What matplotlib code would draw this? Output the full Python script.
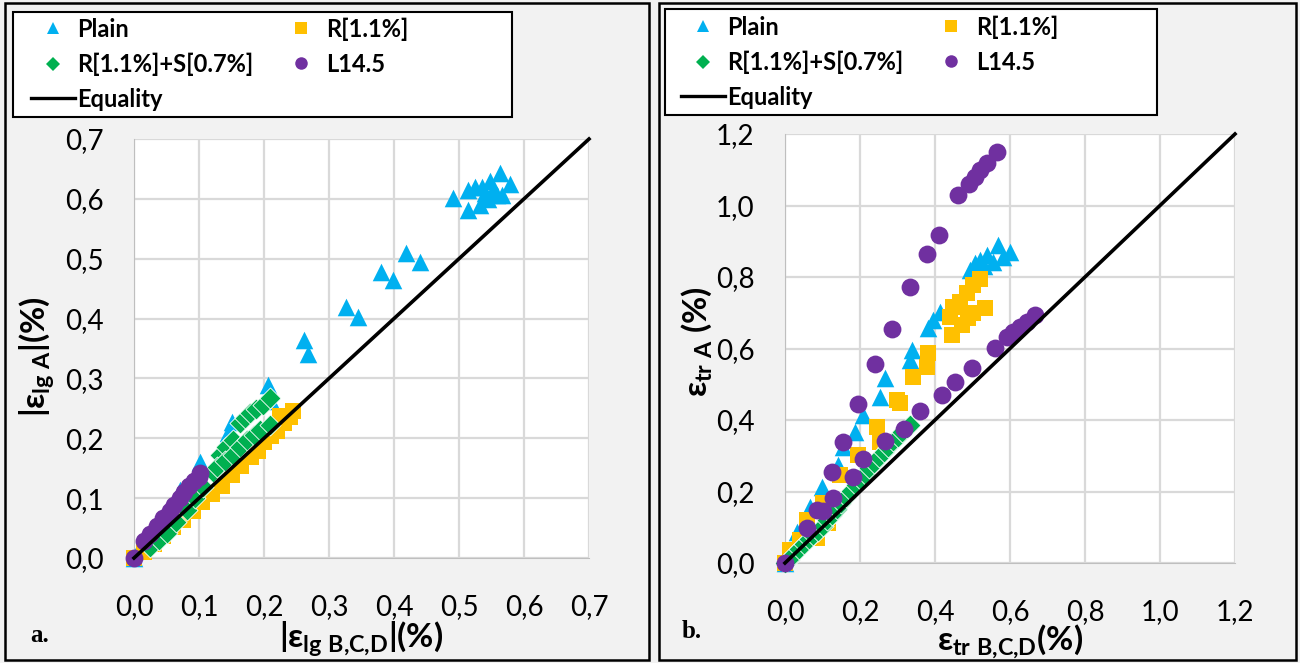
import numpy as np
import matplotlib.pyplot as plt
from matplotlib.lines import Line2D
from matplotlib.patches import Rectangle

# ---- panel a: longitudinal strain |e_lg A| vs |e_lg B,C,D| (%)
plain_a_x = [0.0, 0.012, 0.04, 0.071, 0.102, 0.145, 0.151, 0.206, 0.21, 0.262, 0.268, 0.326, 0.345,
             0.38, 0.399, 0.418, 0.44, 0.491, 0.514, 0.514, 0.525, 0.535, 0.548, 0.563, 0.578,
             0.532, 0.545, 0.558, 0.566, 0.54, 0.552]
plain_a_y = [0.0, 0.025, 0.06, 0.114, 0.161, 0.209, 0.227, 0.289, 0.262, 0.365, 0.34, 0.42, 0.403,
             0.478, 0.465, 0.51, 0.495, 0.602, 0.582, 0.615, 0.619, 0.62, 0.629, 0.643, 0.624,
             0.59, 0.599, 0.607, 0.607, 0.61, 0.615]
r11_a_x = [0.0, 0.015, 0.03, 0.045, 0.06, 0.075, 0.09, 0.105, 0.12, 0.135, 0.15, 0.165, 0.18, 0.19,
           0.2, 0.21, 0.22, 0.23, 0.24, 0.225, 0.245]
r11_a_y = [0.0, 0.01, 0.024, 0.037, 0.051, 0.064, 0.079, 0.094, 0.107, 0.121, 0.138, 0.153, 0.168,
           0.178, 0.193, 0.203, 0.213, 0.226, 0.236, 0.238, 0.246]
rs_a_x = [0.025, 0.038, 0.05, 0.065, 0.081, 0.094, 0.106, 0.122, 0.132, 0.142, 0.152, 0.163, 0.17,
          0.178, 0.188, 0.198, 0.209, 0.128, 0.14, 0.152, 0.163, 0.174, 0.184, 0.194, 0.209]
rs_a_y = [0.018, 0.03, 0.042, 0.06, 0.08, 0.1, 0.119, 0.144, 0.172, 0.185, 0.197, 0.226, 0.234,
          0.242, 0.249, 0.256, 0.268, 0.152, 0.162, 0.172, 0.185, 0.197, 0.205, 0.214, 0.222]
l145_a_x = [0.0, 0.015, 0.025, 0.035, 0.045, 0.055, 0.062, 0.07, 0.077, 0.085, 0.092, 0.1, 0.102]
l145_a_y = [0.0, 0.028, 0.04, 0.053, 0.066, 0.078, 0.088, 0.1, 0.11, 0.12, 0.128, 0.136, 0.142]

# ---- panel b: transversal strain e_tr A vs e_tr B,C,D (%)
plain_b_x = [0.0, 0.032, 0.067, 0.099, 0.141, 0.155, 0.187, 0.208, 0.253, 0.267, 0.333, 0.339,
             0.381, 0.395, 0.413, 0.493, 0.507, 0.52, 0.539, 0.555, 0.568, 0.581, 0.6, 0.53]
plain_b_y = [0.0, 0.087, 0.157, 0.213, 0.274, 0.325, 0.366, 0.414, 0.464, 0.518, 0.568, 0.596,
             0.657, 0.68, 0.702, 0.82, 0.839, 0.848, 0.861, 0.842, 0.89, 0.856, 0.87, 0.83]
r11_b_x = [0.0, 0.013, 0.04, 0.059, 0.085, 0.101, 0.115, 0.147, 0.195, 0.245, 0.253, 0.299, 0.307,
           0.341, 0.378, 0.381, 0.44, 0.448, 0.467, 0.485, 0.501, 0.52, 0.445, 0.472, 0.488,
           0.501, 0.533]
r11_b_y = [0.0, 0.036, 0.064, 0.12, 0.07, 0.168, 0.112, 0.246, 0.302, 0.38, 0.339, 0.456, 0.448,
           0.52, 0.548, 0.587, 0.688, 0.716, 0.73, 0.755, 0.778, 0.794, 0.638, 0.666, 0.685,
           0.699, 0.713]
rs_b_x = [0.0, 0.012, 0.025, 0.038, 0.05, 0.063, 0.075, 0.088, 0.1, 0.113, 0.125, 0.138, 0.15,
          0.163, 0.175, 0.188, 0.2, 0.213, 0.225, 0.238, 0.25, 0.263, 0.275, 0.288, 0.3, 0.313,
          0.325, 0.333]
rs_b_y = [0.0, 0.012, 0.026, 0.04, 0.052, 0.066, 0.078, 0.09, 0.104, 0.12, 0.135, 0.152, 0.168,
          0.186, 0.202, 0.218, 0.234, 0.25, 0.265, 0.28, 0.296, 0.31, 0.325, 0.34, 0.352, 0.366,
          0.378, 0.386]
l145_b_x = [0.0, 0.059, 0.085, 0.101, 0.128, 0.125, 0.155, 0.181, 0.208, 0.195, 0.24, 0.267, 0.285,
            0.317, 0.333, 0.36, 0.378, 0.411, 0.419, 0.453, 0.461, 0.491, 0.499, 0.507, 0.52,
            0.539, 0.565, 0.56, 0.592, 0.608, 0.627, 0.645, 0.667]
l145_b_y = [0.0, 0.098, 0.148, 0.145, 0.182, 0.255, 0.338, 0.241, 0.29, 0.444, 0.556, 0.341, 0.655,
            0.375, 0.773, 0.425, 0.864, 0.917, 0.47, 0.506, 1.03, 1.06, 0.545, 1.08, 1.10,
            1.12, 1.15, 0.601, 0.632, 0.646, 0.66, 0.674, 0.693]

eq_a = [0.0, 0.7]
eq_b = [0.0, 1.2]
ticks_a = [0.0, 0.1, 0.2, 0.3, 0.4, 0.5, 0.6, 0.7]
ticks_b = [0.0, 0.2, 0.4, 0.6, 0.8, 1.0, 1.2]

C_PLAIN = "#00B0F0"
C_R = "#FFC000"
C_RS = "#00B050"
C_L = "#7030A0"

plt.rcParams["font.family"] = ["Lato", "DejaVu Sans"]
plt.rcParams["mathtext.fontset"] = "custom"
plt.rcParams["mathtext.rm"] = "Lato:bold"
plt.rcParams["mathtext.it"] = "Lato:bold"
plt.rcParams["mathtext.bf"] = "Lato:bold"
plt.rcParams["mathtext.fallback"] = "stixsans"

W, H = 1300, 663
fig = plt.figure(figsize=(13, 6.63), dpi=100, facecolor="#F2F2F2")


def fx(px):
    return px / W


def fy(py):
    return 1 - py / H


def draw_panel(rect, data, eq, ticks):
    ax = fig.add_axes(rect)
    ax.set_facecolor("white")
    (px, py), (rx, ry), (sx, sy), (lx, ly) = data
    kw = dict(clip_on=False)
    ax.scatter(px, py, marker="^", s=160, color=C_PLAIN, linewidths=0, zorder=3, **kw)
    ax.scatter(rx, ry, marker="s", s=125, color=C_R, linewidths=0, zorder=4, **kw)
    ax.scatter(sx, sy, marker="D", s=115, color=C_RS, edgecolors="white", linewidths=0.6,
               zorder=5, **kw)
    ax.scatter(lx, ly, marker="o", s=165, color=C_L, linewidths=0, zorder=6, **kw)
    ax.plot(eq, eq, color="black", lw=2.6, zorder=7, clip_on=False)
    ax.set_xlim(ticks[0], ticks[-1])
    ax.set_ylim(ticks[0], ticks[-1])
    labels = [f"{t:.1f}".replace(".", ",") for t in ticks]
    ax.set_xticks(ticks, labels)
    ax.set_yticks(ticks, labels)
    ax.tick_params(length=0, labelsize=20, colors="black")
    ax.tick_params(axis="x", pad=26)
    ax.tick_params(axis="y", pad=22)
    ax.grid(color="#D9D9D9", lw=1.6)
    ax.set_axisbelow(True)
    for sp in ax.spines.values():
        sp.set_visible(False)
    ax.spines["left"].set_visible(True)
    ax.spines["bottom"].set_visible(True)
    ax.spines["left"].set_color("#BFBFBF")
    ax.spines["bottom"].set_color("#BFBFBF")
    return ax


draw_panel([fx(134), 1 - 558 / H, 455 / W, 419 / H],
           [(plain_a_x, plain_a_y), (r11_a_x, r11_a_y), (rs_a_x, rs_a_y), (l145_a_x, l145_a_y)],
           eq_a, ticks_a)
draw_panel([fx(785), 1 - 563 / H, 450 / W, 429 / H],
           [(plain_b_x, plain_b_y), (r11_b_x, r11_b_y), (rs_b_x, rs_b_y), (l145_b_x, l145_b_y)],
           eq_b, ticks_b)

# panel borders and legend frames
for x0, x1 in [(5, 649), (659, 1296)]:
    fig.patches.append(Rectangle((fx(x0), fy(660)), fx(x1 - x0), 657 / H, transform=fig.transFigure,
                                 fill=False, edgecolor="black", lw=1.8, zorder=0))
for x0, x1, y0, y1 in [(13, 512, 12, 117), (665, 1157, 9, 115)]:
    fig.patches.append(Rectangle((fx(x0), fy(y1)), fx(x1 - x0), (y1 - y0) / H, transform=fig.transFigure,
                                 facecolor="white", edgecolor="black", lw=1.5, zorder=1))

handles = [
    Line2D([], [], ls="none", marker="^", ms=9, color=C_PLAIN, mew=0),
    Line2D([], [], ls="none", marker="D", ms=7, color=C_RS, mew=0),
    Line2D([], [], color="black", lw=2.4),
    Line2D([], [], ls="none", marker="s", ms=8, color=C_R, mew=0),
    Line2D([], [], ls="none", marker="o", ms=9, color=C_L, mew=0),
]
names = ["Plain", "R[1.1%]+S[0.7%]", "Equality", "R[1.1%]", "L14.5"]
for x0, y0 in [(29, 15), (679, 13)]:
    leg = fig.legend(handles, names, ncol=2, loc="upper left", bbox_to_anchor=(fx(x0), fy(y0)),
                     borderaxespad=0, frameon=False, prop={"weight": "bold", "size": 17},
                     handlelength=1.85, handletextpad=0.1, columnspacing=1.1, labelspacing=0.5,
                     borderpad=0.1)
    leg.set_zorder(2)

# axis titles
fig.text(fx(37), fy(357), r"$|ε_{\mathregular{lg\ A}}|$" + "(%)", rotation=90, ha="center",
         va="center", fontsize=24, fontweight="bold")
fig.text(fx(361), fy(639), r"$|ε_{\mathregular{lg\ B{,}C{,}D}}|$" + "(%)", ha="center", va="center",
         fontsize=24, fontweight="bold")
fig.text(fx(697), fy(342), r"$ε_{\mathregular{tr\ A}}$" + " (%)", rotation=90, ha="center",
         va="center", fontsize=24, fontweight="bold")
fig.text(fx(1010), fy(642), r"$ε_{\mathregular{tr\ B{,}C{,}D}}$" + "(%)", ha="center", va="center",
         fontsize=24, fontweight="bold")
fig.text(fx(40), fy(636), "a.", ha="center", va="center", fontsize=18, fontweight="bold",
         family="Liberation Serif")
fig.text(fx(692), fy(632), "b.", ha="center", va="center", fontsize=18, fontweight="bold",
         family="Liberation Serif")

fig.savefig("out.png", dpi=100, facecolor=fig.get_facecolor())
